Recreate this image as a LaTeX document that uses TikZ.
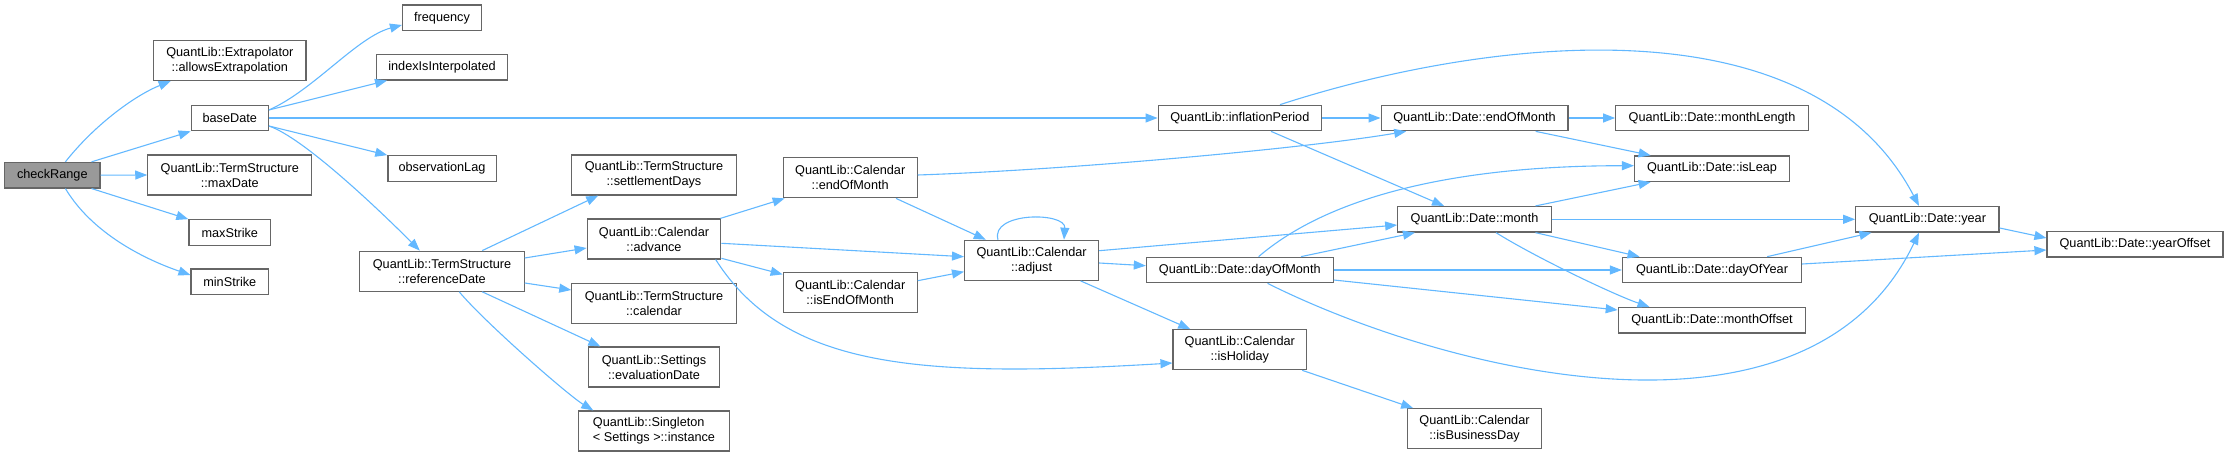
\documentclass[tikz,border=0pt]{standalone}
\usepackage{fontspec}
\setmainfont{Liberation Sans}
\usetikzlibrary{arrows.meta}
\definecolor{edgeblue}{HTML}{63B8FF}
\definecolor{nodeborder}{HTML}{666666}
\definecolor{rootfill}{HTML}{999999}
\tikzset{
  fn/.style={draw=nodeborder, line width=1.2pt, fill=white, inner sep=0pt,
    minimum height=25.5pt, font=\fontsize{12.7}{15}\selectfont, align=center},
  fn2/.style={fn, minimum height=40pt},
  root/.style={fn, fill=rootfill},
  call/.style={draw=edgeblue, line width=1.1pt, -{Triangle[length=12pt,width=9pt]}},
}
\begin{document}
\begin{tikzpicture}[x=1pt,y=1pt]
\useasboundingbox (0,0) rectangle (2228,-457);
% nodes
\node[root, minimum width=95.3pt] (cr) at (52.3,-175.2) {checkRange};
\node[fn2, minimum width=152.5pt] (ae) at (229.8,-60.5) {QuantLib::Extrapolator\\::allowsExtrapolation};
\node[fn, minimum width=77.1pt] (bd) at (229.8,-118) {baseDate};
\node[fn2, minimum width=163.9pt] (md) at (229.8,-175) {QuantLib::TermStructure\\::maxDate};
\node[fn, minimum width=81.8pt] (ms) at (229.8,-232.5) {maxStrike};
\node[fn, minimum width=77.5pt] (mns) at (229.8,-281.8) {minStrike};
\node[fn, minimum width=78.9pt] (fq) at (442,-17.8) {frequency};
\node[fn, minimum width=130.7pt] (iii) at (442,-67.2) {indexIsInterpolated};
\node[fn, minimum width=108.2pt] (ol) at (442,-168.5) {observationLag};
\node[fn2, minimum width=164.3pt] (rd) at (442,-271.2) {QuantLib::TermStructure\\::referenceDate};
\node[fn2, minimum width=164.3pt] (sd) at (654,-175) {QuantLib::TermStructure\\::settlementDays};
\node[fn2, minimum width=133.6pt] (adv) at (654,-239) {QuantLib::Calendar\\::advance};
\node[fn2, minimum width=164.3pt] (cal) at (654,-303.2) {QuantLib::TermStructure\\::calendar};
\node[fn2, minimum width=131.1pt] (ed) at (654,-367) {QuantLib::Settings\\::evaluationDate};
\node[fn2, minimum width=151.1pt, align=left] (inst) at (654,-431) {QuantLib::Singleton\\< Settings >::instance};
\node[fn2, minimum width=133.9pt] (cem) at (850.2,-177.8) {QuantLib::Calendar\\::endOfMonth};
\node[fn2, minimum width=133.9pt] (iem) at (850.2,-292.7) {QuantLib::Calendar\\::isEndOfMonth};
\node[fn2, minimum width=134pt] (adj) at (1031.6,-260.3) {QuantLib::Calendar\\::adjust};
\node[fn, minimum width=163.2pt] (ip) at (1239.8,-118) {QuantLib::inflationPeriod};
\node[fn, minimum width=186.8pt] (dom) at (1239.8,-270) {QuantLib::Date::dayOfMonth};
\node[fn2, minimum width=133.5pt] (ih) at (1239.8,-349.7) {QuantLib::Calendar\\::isHoliday};
\node[fn, minimum width=186.8pt] (dem) at (1474.5,-118) {QuantLib::Date::endOfMonth};
\node[fn, minimum width=153.5pt] (mon) at (1474.5,-219.3) {QuantLib::Date::month};
\node[fn2, minimum width=133.5pt] (ibd) at (1474.5,-428.7) {QuantLib::Calendar\\::isBusinessDay};
\node[fn, minimum width=192.6pt] (ml) at (1712,-118) {QuantLib::Date::monthLength};
\node[fn, minimum width=154.9pt] (leap) at (1712,-168.7) {QuantLib::Date::isLeap};
\node[fn, minimum width=179.1pt] (doy) at (1712,-270) {QuantLib::Date::dayOfYear};
\node[fn, minimum width=187.4pt] (mo) at (1712,-320.3) {QuantLib::Date::monthOffset};
\node[fn, minimum width=143.3pt] (yr) at (1927.4,-219.3) {QuantLib::Date::year};
\node[fn, minimum width=176pt] (yo) at (2135,-244.3) {QuantLib::Date::yearOffset};
% edges from checkRange
\draw[call] ([xshift=13.1pt]cr.north) .. controls +(30,38) and +(-35,-14) .. ([xshift=-59.1pt]ae.south);
\draw[call] ([xshift=-9pt]cr.north east) -- (bd.south west);
\draw[call] (cr.east) -- (md.west);
\draw[call] ([xshift=-9pt]cr.south east) -- (ms.north west);
\draw[call] ([xshift=13.1pt]cr.south) .. controls +(30,-50) and +(-35,12) .. ([yshift=6.8pt]mns.west);
% baseDate
\draw[call] ([yshift=8pt]bd.east) .. controls +(45,20) and +(-45,-12) .. ([yshift=-7.2pt]fq.west);
\draw[call] ([yshift=8pt]bd.east) -- ([xshift=11pt]iii.south west);
\draw[call] (bd.east) -- (ip.west);
\draw[call] ([yshift=-8pt]bd.east) -- (ol.north west);
\draw[call] ([yshift=-8pt]bd.east) .. controls +(35,-12) and +(-40,40) .. ([xshift=-22.2pt]rd.north);
% referenceDate
\draw[call] ([xshift=40.2pt]rd.north) -- ([xshift=27pt]sd.south west);
\draw[call] ([yshift=13.2pt]rd.east) -- ([yshift=-9pt]adv.west);
\draw[call] ([yshift=-11.8pt]rd.east) -- ([yshift=13.2pt]cal.west);
\draw[call] ([xshift=40.2pt]rd.south) -- ([xshift=12.5pt]ed.north west);
\draw[call] ([xshift=17.2pt]rd.south) .. controls +(25,-30) and +(-25,15) .. ([xshift=15.4pt]inst.north west);
% advance
\draw[call] ([xshift=-1pt]adv.north east) -- ([xshift=2pt]cem.south west);
\draw[call] ([yshift=-4.3pt]adv.east) -- ([yshift=3.6pt]adj.west);
\draw[call] ([yshift=1.3pt]adv.south east) -- ([yshift=-2.3pt]iem.north west);
\draw[call] ([xshift=-5.7pt]adv.south east) .. controls +(70,-110) and +(-250,-15) .. ([yshift=-13.3pt]ih.west);
% calendar endOfMonth / isEndOfMonth
\draw[call] ([xshift=45.8pt]cem.south) -- ([xshift=21.8pt]adj.north west);
\draw[call] ([yshift=2.8pt]cem.east) .. controls +(150,5) and +(-100,-17) .. ([xshift=25.7pt]dem.south west);
\draw[call] ([yshift=12pt]iem.east) -- ([yshift=-11.4pt]adj.west);
% adjust
\draw[call] ([xshift=-33.6pt]adj.north) .. controls +(-8,28) and +(2,28) .. ([xshift=32.4pt]adj.north);
\draw[call] ([yshift=9.6pt]adj.east) -- ([yshift=-5.7pt]mon.west);
\draw[call] ([yshift=-2.7pt]adj.east) -- ([yshift=4.3pt]dom.west);
\draw[call] ([xshift=-18.6pt]adj.south east) -- ([xshift=17.8pt]ih.north west);
% inflationPeriod
\draw[call] (ip.east) -- (dem.west);
\draw[call] ([xshift=31.2pt]ip.south) -- ([xshift=-30.5pt]mon.north);
\draw[call] ([xshift=40.2pt]ip.north) .. controls +(200,65) and +(-110,210) .. ([xshift=-8.4pt]yr.north);
% Date::endOfMonth
\draw[call] (dem.east) -- (ml.west);
\draw[call] ([xshift=-32.9pt]dem.south east) -- ([xshift=16.7pt]leap.north west);
% dayOfMonth
\draw[call] ([xshift=18.8pt]dom.north) .. controls +(70,60) and +(-180,0) .. ([yshift=3pt]leap.west);
\draw[call] ([xshift=61.2pt]dom.north) -- ([xshift=17.8pt]mon.south west);
\draw[call] (dom.east) -- (doy.west);
\draw[call] ([yshift=-10pt]dom.east) -- ([yshift=10.3pt]mo.west);
\draw[call] ([xshift=27.7pt]dom.south) .. controls +(180,-90) and +(-110,-230) .. ([xshift=-8.4pt]yr.south);
% month
\draw[call] ([xshift=-16.4pt]mon.north east) -- ([xshift=16.7pt]leap.south west);
\draw[call] (mon.east) -- (yr.west);
\draw[call] ([xshift=-16.4pt]mon.south east) -- ([xshift=17.7pt]doy.north west);
\draw[call] ([xshift=21.5pt]mon.south) .. controls +(40,-25) and +(-35,12) .. ([xshift=31.8pt]mo.north west);
% isHoliday
\draw[call] ([xshift=-5pt]ih.south east) -- ([xshift=6pt]ibd.north west);
% year, dayOfYear
\draw[call] ([yshift=-8.7pt]yr.east) -- ([yshift=6.3pt]yo.west);
\draw[call] ([xshift=55.2pt]doy.north) -- ([xshift=16.3pt]yr.south west);
\draw[call] ([yshift=6pt]doy.east) -- ([yshift=-5.7pt]yo.west);
\end{tikzpicture}
\end{document}
